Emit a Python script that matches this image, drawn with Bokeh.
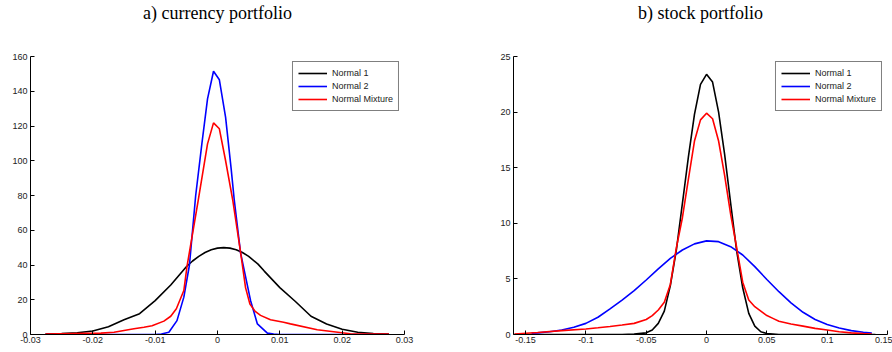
from bokeh.plotting import figure
from bokeh.layouts import row
from bokeh.models import Range1d, FixedTicker, Title, Legend, LegendItem
from bokeh.embed import file_html
from bokeh.resources import INLINE

# ---------------- data: a) currency portfolio ----------------
cur_n1_x = [-0.0276, -0.025, -0.0225, -0.02, -0.0175, -0.015, -0.0125, -0.01, -0.0075, -0.005,
            -0.004, -0.003, -0.002, -0.001, 0.0, 0.001, 0.002, 0.003, 0.004, 0.005,
            0.0065, 0.0075, 0.01, 0.0125, 0.015, 0.0175, 0.02, 0.0225, 0.025, 0.0275]
cur_n1_y = [0.2, 0.5, 1.0, 2.0, 4.5, 8.5, 12.0, 19.5, 28.5, 39.0,
            42.3, 45.0, 47.2, 48.8, 49.7, 50.0, 49.7, 48.8, 47.2, 45.0,
            40.5, 36.5, 27.0, 19.0, 10.5, 6.0, 3.0, 1.3, 0.5, 0.2]

cur_n2_x = [-0.0276, -0.01, -0.009, -0.0078, -0.0065, -0.0054, -0.0045, -0.0035, -0.0025, -0.0016,
            -0.00064, 0.0003, 0.0013, 0.0022, 0.0027, 0.0037, 0.0053, 0.0064, 0.008, 0.009,
            0.01, 0.0275]
cur_n2_y = [0.0, 0.0, 0.3, 1.3, 8.0, 21.5, 40.0, 80.0, 110.0, 135.6,
            151.5, 146.6, 125.0, 95.0, 77.0, 47.0, 19.6, 6.1, 0.8, 0.2,
            0.0, 0.0]

cur_mix_x = [-0.0276, -0.0187, -0.0166, -0.0134, -0.0118, -0.0105, -0.0086, -0.0075, -0.0066, -0.0054,
             -0.0049, -0.0031, -0.0016, -0.00064, 0.0003, 0.0013, 0.00246, 0.0037, 0.0045, 0.0052,
             0.006, 0.0069, 0.0085, 0.0106, 0.0117, 0.016, 0.0213, 0.0275]
cur_mix_y = [0.2, 0.8, 1.3, 3.3, 4.2, 5.0, 7.7, 10.5, 14.8, 25.3,
             39.0, 77.0, 109.7, 121.8, 118.4, 100.0, 77.0, 47.4, 27.0, 17.5,
             13.5, 11.0, 8.5, 7.0, 6.1, 2.7, 0.4, 0.2]

cur_xticks = [-0.03, -0.02, -0.01, 0.0, 0.01, 0.02, 0.03]
cur_xlabels = ["-0.03", "-0.02", "-0.01", "0", "0.01", "0.02", "0.03"]
cur_yticks = [0, 20, 40, 60, 80, 100, 120, 140, 160]

# ---------------- data: b) stock portfolio ----------------
stk_n1_x = [-0.16, -0.07, -0.06, -0.05, -0.045, -0.04, -0.035, -0.03, -0.025, -0.02,
            -0.015, -0.01, -0.005, 0.0, 0.005, 0.01, 0.015, 0.02, 0.025, 0.03,
            0.035, 0.04, 0.045, 0.05, 0.06, 0.14]
stk_n1_y = [0.0, 0.0, 0.03, 0.15, 0.4, 1.0, 2.1, 4.4, 7.6, 11.8,
            16.0, 19.8, 22.5, 23.4, 22.7, 20.0, 16.2, 11.8, 7.5, 4.2,
            1.9, 0.75, 0.25, 0.08, 0.0, 0.0]

stk_n2_x = [-0.145, -0.14, -0.13, -0.12, -0.11, -0.10, -0.09, -0.08, -0.07, -0.06,
            -0.05, -0.04, -0.03, -0.02, -0.01, 0.0, 0.01, 0.02, 0.03, 0.04,
            0.05, 0.06, 0.07, 0.08, 0.09, 0.10, 0.11, 0.12, 0.13, 0.137]
stk_n2_y = [0.12, 0.15, 0.25, 0.4, 0.65, 1.0, 1.55, 2.3, 3.1, 3.95,
            4.9, 5.9, 6.85, 7.6, 8.15, 8.42, 8.35, 7.9, 7.15, 6.1,
            4.95, 3.85, 2.85, 2.0, 1.35, 0.9, 0.58, 0.35, 0.2, 0.14]

stk_mix_x = [-0.159, -0.14, -0.12, -0.10, -0.09, -0.08, -0.07, -0.06, -0.05, -0.045,
             -0.04, -0.035, -0.03, -0.025, -0.02, -0.015, -0.01, -0.005, 0.0, 0.005,
             0.01, 0.015, 0.02, 0.025, 0.03, 0.035, 0.04, 0.045, 0.05, 0.055,
             0.06, 0.07, 0.08, 0.09, 0.10, 0.11, 0.12, 0.13, 0.137]
stk_mix_y = [0.05, 0.18, 0.35, 0.5, 0.6, 0.72, 0.85, 1.0, 1.35, 1.7,
             2.2, 2.9, 4.5, 7.8, 10.5, 14.0, 17.4, 19.3, 19.9, 19.4,
             17.4, 14.3, 10.8, 7.8, 4.7, 3.1, 2.5, 2.1, 1.7, 1.45,
             1.2, 0.95, 0.75, 0.55, 0.4, 0.25, 0.15, 0.08, 0.05]

stk_xticks = [-0.15, -0.1, -0.05, 0.0, 0.05, 0.1, 0.15]
stk_xlabels = ["-0.15", "-0.1", "-0.05", "0", "0.05", "0.1", "0.15"]
stk_yticks = [0, 5, 10, 15, 20, 25]

SERIES_NAMES = ["Normal 1", "Normal 2", "Normal Mixture"]
COLORS = ["black", "blue", "red"]
TICK_FONT = "Liberation Sans"
TITLE_FONT = "Liberation Serif"


def make_panel(title, xr, yr, xticks, xlabels, yticks, series, bl, br):
    p = figure(width=446, height=352, output_backend="svg", toolbar_location=None,
               x_range=Range1d(*xr), y_range=Range1d(*yr),
               min_border_left=bl, min_border_right=br,
               min_border_top=56, min_border_bottom=18)
    p.title.visible = False
    # empty spacer panel next to the frame, then the real title above it
    spacer = Title(text=" ", text_font=TITLE_FONT, text_font_size="18px", standoff=12)
    p.add_layout(spacer, "above")
    t = Title(text=title, align="center", text_font=TITLE_FONT,
              text_font_size="18px", text_font_style="normal", text_color="black",
              standoff=0)
    p.add_layout(t, "above")
    p.outline_line_color = None
    p.xgrid.visible = False
    p.ygrid.visible = False
    for ax in (p.xaxis[0], p.yaxis[0]):
        ax.axis_line_color = "black"
        ax.axis_line_width = 1
        ax.major_tick_in = 4
        ax.major_tick_out = 0
        ax.minor_tick_line_color = None
        ax.major_tick_line_color = "black"
        ax.major_label_text_font = TICK_FONT
        ax.major_label_text_font_size = "9px"
        ax.major_label_text_color = "#222222"
    p.xaxis[0].ticker = FixedTicker(ticks=xticks)
    p.xaxis[0].major_label_overrides = {t_: l_ for t_, l_ in zip(xticks, xlabels)}
    p.xaxis[0].major_label_standoff = 2
    p.yaxis[0].ticker = FixedTicker(ticks=yticks)
    p.yaxis[0].major_label_standoff = 3
    items = []
    for (xs, ys), name, col in zip(series, SERIES_NAMES, COLORS):
        r = p.line(xs, ys, line_color=col, line_width=1.6)
        items.append(LegendItem(label=name, renderers=[r]))
    leg = Legend(items=items, location="top_right")
    leg.label_text_font = TICK_FONT
    leg.label_text_font_size = "9px"
    leg.label_text_color = "#222222"
    leg.border_line_color = "black"
    leg.border_line_width = 1
    leg.background_fill_color = "white"
    leg.background_fill_alpha = 1.0
    leg.padding = 5
    leg.spacing = 1
    leg.margin = 5
    leg.glyph_width = 29
    leg.glyph_height = 12
    leg.label_height = 12
    leg.label_standoff = 5
    p.add_layout(leg, "center")
    return p


p1 = make_panel("a) currency portfolio", (-0.03, 0.03), (0, 160), cur_xticks, cur_xlabels,
                cur_yticks,
                [(cur_n1_x, cur_n1_y), (cur_n2_x, cur_n2_y), (cur_mix_x, cur_mix_y)], 30, 42)
p2 = make_panel("b) stock portfolio", (-0.16, 0.15), (0, 25), stk_xticks, stk_xlabels,
                stk_yticks,
                [(stk_n1_x, stk_n1_y), (stk_n2_x, stk_n2_y), (stk_mix_x, stk_mix_y)], 67, 5)

layout = row(p1, p2)
open("out.html", "w").write(file_html(layout, INLINE))
